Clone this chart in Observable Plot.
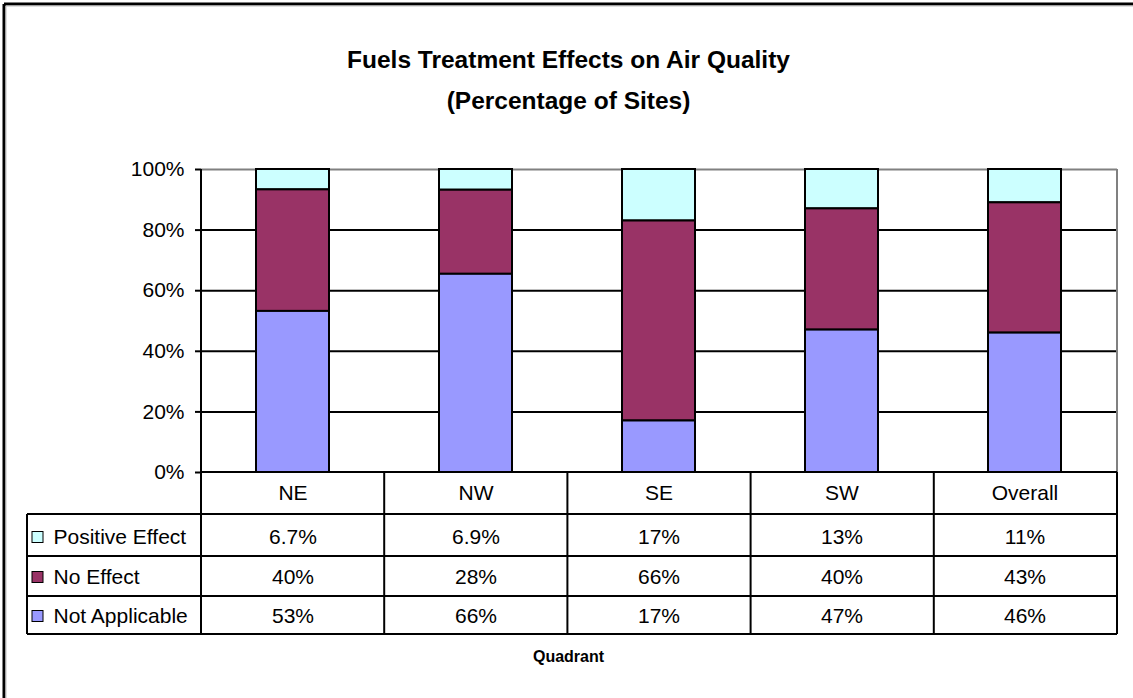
<!DOCTYPE html>
<html>
<head>
<meta charset="utf-8">
<script src="https://cdn.jsdelivr.net/npm/d3@7"></script>
<script src="https://cdn.jsdelivr.net/npm/@observablehq/plot@0.6"></script>
<style>
  html, body { margin: 0; padding: 0; background: #fff; }
  #chart svg { display: block; font-family: "Liberation Sans", Arial, sans-serif; color: #000; }
</style>
</head>
<body>
<div id="chart"></div>
<script>
// ---- data ----
const categories = ["NE", "NW", "SE", "SW", "Overall"];
const seriesNames = ["Positive Effect", "No Effect", "Not Applicable"]; // table order (top to bottom)
const positiveEffect = [6.7, 6.9, 17, 13, 11];
const noEffect = [40, 28, 66, 40, 43];
const notApplicable = [53, 66, 17, 47, 46];
const valueLabels = {
  "Positive Effect": ["6.7%", "6.9%", "17%", "13%", "11%"],
  "No Effect": ["40%", "28%", "66%", "40%", "43%"],
  "Not Applicable": ["53%", "66%", "17%", "47%", "46%"]
};
const seriesColors = ["#CCFFFF", "#993366", "#9999FF"];
const yTicks = [0, 0.2, 0.4, 0.6, 0.8, 1];
const titleLines = ["Fuels Treatment Effects on Air Quality", "(Percentage of Sites)"];
const xTitle = "Quadrant";

// ---- build table ----
const seriesValues = {"Positive Effect": positiveEffect, "No Effect": noEffect, "Not Applicable": notApplicable};
const data = [];
for (const s of seriesNames) {
  categories.forEach((c, i) => data.push({cat: c, series: s, value: seriesValues[s][i], label: valueLabels[s][i]}));
}

const W = 1133, H = 698;
const M = {top: 169, right: 16, bottom: 226, left: 201};
const frameBottom = H - M.bottom; // 472
const rowCenters = [537, 577, 616]; // table rows (pixel centers)
const rowLines = [514, 556, 596, 634];
const tableLeft = 27;

function tableLines(index, scales, values, dims) {
  const g = d3.create("svg:g");
  const L = dims.marginLeft, R = dims.width - dims.marginRight;
  const T = dims.marginTop, B = dims.height - dims.marginBottom;
  const step = (R - L) / categories.length;
  const line = (x1, y1, x2, y2, stroke, w) =>
    g.append("line").attr("x1", x1).attr("y1", y1).attr("x2", x2).attr("y2", y2)
      .attr("stroke", stroke).attr("stroke-width", w);
  // outer chart-area border (top/left visible)
  line(4, 4, W, 4, "#000", 3);
  line(4, 4, 4, H, "#000", 3);
  line(6, 6, W, 6, "#c0c0c0", 1);
  line(6, 6, 6, H, "#c0c0c0", 1);
  // plot area border (gray right)
  line(R, T, R, B, "#808080", 2);
  // left axis line
  line(L, T, L, B, "#000", 2);
  // table horizontal lines
  line(L, B, R, B, "#000", 2);
  rowLines.forEach(y => line(tableLeft, y, R, y, "#000", 2));
  // table vertical lines
  line(tableLeft, rowLines[0], tableLeft, rowLines[rowLines.length - 1], "#000", 2);
  for (let i = 0; i <= categories.length; i++) {
    const x = L + i * step;
    line(x, B, x, rowLines[rowLines.length - 1], "#000", 2);
  }
  // legend swatches
  seriesNames.forEach((s, i) => {
    g.append("rect").attr("x", 32).attr("y", rowCenters[i] - 5.5).attr("width", 11).attr("height", 11)
      .attr("fill", scales.color(s)).attr("stroke", "#000").attr("stroke-width", 1);
  });
  return g.node();
}

const marks = [
  Plot.ruleY([0.2, 0.4, 0.6, 0.8], {stroke: "#000", strokeWidth: 2}),
  Plot.ruleY([1], {stroke: "#808080", strokeWidth: 2}),
  Plot.barY(data, {
    x: "cat", y: "value", fill: "series",
    order: ["Not Applicable", "No Effect", "Positive Effect"],
    offset: "normalize",
    stroke: "#000", strokeWidth: 2
  }),
  Plot.axisY({ticks: yTicks, tickFormat: d3.format(".0%"), tickSize: 6, tickPadding: 11,
    fontSize: 21, label: null, stroke: "#000", strokeWidth: 2, strokeOpacity: 1}),
  Plot.axisX({tickSize: 0, tickPadding: 13, fontSize: 21, label: null}),
  tableLines
];

seriesNames.forEach((s, i) => {
  marks.push(Plot.text(data.filter(d => d.series === s), {
    x: "cat", text: "label", frameAnchor: "bottom", lineAnchor: "middle", dy: rowCenters[i] - frameBottom,
    fontSize: 21, fill: "#000"
  }));
  marks.push(Plot.text([s], {
    text: d => d, frameAnchor: "bottom-left", lineAnchor: "middle", dx: 53 - M.left, dy: rowCenters[i] - frameBottom,
    textAnchor: "start", fontSize: 21, fill: "#000"
  }));
});

const titleDx = 568 - (M.left + (W - M.right)) / 2;
marks.push(Plot.text([titleLines[0]], {text: d => d, frameAnchor: "top", lineAnchor: "middle", dx: titleDx, dy: 60 - M.top,
  fontSize: 24.5, fontWeight: "bold", fill: "#000"}));
marks.push(Plot.text([titleLines[1]], {text: d => d, frameAnchor: "top", lineAnchor: "middle", dx: titleDx, dy: 101 - M.top,
  fontSize: 24.5, fontWeight: "bold", fill: "#000"}));
marks.push(Plot.text([xTitle], {text: d => d, frameAnchor: "bottom", lineAnchor: "middle", dx: titleDx, dy: 656 - frameBottom,
  fontSize: 16, fontWeight: "bold", fill: "#000"}));

const chart = Plot.plot({
  width: W, height: H,
  marginTop: M.top, marginRight: M.right, marginBottom: M.bottom, marginLeft: M.left,
  style: {fontFamily: "'Liberation Sans', Arial, sans-serif", color: "#000", background: "#fff"},
  x: {type: "band", domain: categories, paddingInner: 0.6, paddingOuter: 0.3},
  y: {domain: [0, 1]},
  color: {domain: seriesNames, range: seriesColors},
  marks
});
document.getElementById("chart").appendChild(chart);
</script>
</body>
</html>
